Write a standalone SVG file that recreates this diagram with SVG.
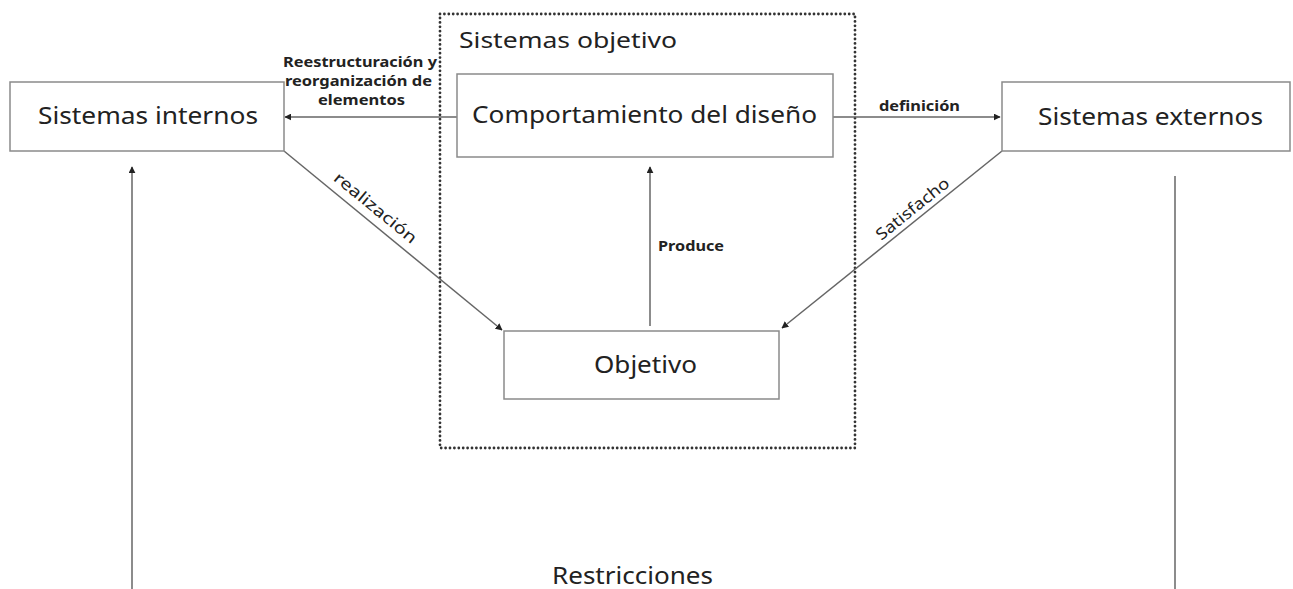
<svg xmlns="http://www.w3.org/2000/svg" width="1293" height="589" viewBox="0 0 1293 589">
<style>
.box{fill:#fff;stroke:#8a8a8a;stroke-width:1.5}
.t{font-family:"Noto Sans","Open Sans",sans-serif;fill:#222}
.big{font-size:24px}
.lbl{font-size:15px;font-weight:bold}
.ln{stroke:#666;stroke-width:1.5;fill:none}
.dots{fill:none;stroke:#333;stroke-width:2.8;stroke-dasharray:0 4.4;stroke-linecap:round}
</style>
<defs>
<marker id="ah" viewBox="0 0 10 10" refX="9" refY="5" markerWidth="7" markerHeight="7" markerUnits="userSpaceOnUse" orient="auto">
<path d="M0,0 L10,5 L0,10 z" fill="#222"/>
</marker>
</defs>
<rect width="1293" height="589" fill="#fff"/>
<g id="sistemas-objetivo">
<rect class="dots" x="440" y="14" width="415" height="434"/>
<text class="t" x="459" y="48" font-size="21.5" textLength="218" lengthAdjust="spacingAndGlyphs">Sistemas objetivo</text>
</g>
<g id="connectors">
<line class="ln" x1="457" y1="117" x2="285" y2="117" marker-end="url(#ah)"/>
<line class="ln" x1="833" y1="117" x2="1000" y2="117" marker-end="url(#ah)"/>
<line class="ln" x1="284" y1="151" x2="502" y2="330" marker-end="url(#ah)"/>
<line class="ln" x1="1002" y1="151" x2="782" y2="328" marker-end="url(#ah)"/>
<line class="ln" x1="650" y1="326" x2="650" y2="167" marker-end="url(#ah)"/>
<line class="ln" x1="132" y1="589" x2="132" y2="167" marker-end="url(#ah)" stroke="#999" stroke-width="2"/>
<line class="ln" x1="1175" y1="176" x2="1175" y2="589"/>
<text class="t lbl" x="283" y="67" textLength="154" lengthAdjust="spacingAndGlyphs">Reestructuración y</text>
<text class="t lbl" x="285" y="86" textLength="147" lengthAdjust="spacingAndGlyphs">reorganización de</text>
<text class="t lbl" x="318" y="105" textLength="87" lengthAdjust="spacingAndGlyphs">elementos</text>
<text class="t lbl" x="879" y="111" textLength="81" lengthAdjust="spacingAndGlyphs">definición</text>
<text class="t lbl" x="658" y="251" textLength="66" lengthAdjust="spacingAndGlyphs">Produce</text>
<text class="t" font-size="16" text-anchor="middle" transform="translate(372,212) rotate(39.4)" textLength="102" lengthAdjust="spacingAndGlyphs">realización</text>
<text class="t" font-size="16" text-anchor="middle" transform="translate(916,213) rotate(-38.8)" textLength="89" lengthAdjust="spacingAndGlyphs">Satisfacho</text>
</g>
<g id="sistemas-internos">
<rect class="box" x="10" y="82" width="274" height="69"/>
<text class="t big" x="38" y="124" textLength="220" lengthAdjust="spacingAndGlyphs">Sistemas internos</text>
</g>
<g id="comportamiento">
<rect class="box" x="457" y="74" width="376" height="83"/>
<text class="t big" x="472" y="123" textLength="345" lengthAdjust="spacingAndGlyphs">Comportamiento del diseño</text>
</g>
<g id="sistemas-externos">
<rect class="box" x="1002" y="82" width="288" height="69"/>
<text class="t big" x="1038" y="125" textLength="225" lengthAdjust="spacingAndGlyphs">Sistemas externos</text>
</g>
<g id="objetivo">
<rect class="box" x="504" y="331" width="275" height="68"/>
<text class="t big" x="594" y="373" textLength="103" lengthAdjust="spacingAndGlyphs">Objetivo</text>
</g>
<g id="restricciones">
<text class="t big" x="552" y="584" textLength="161" lengthAdjust="spacingAndGlyphs">Restricciones</text>
</g>
</svg>
